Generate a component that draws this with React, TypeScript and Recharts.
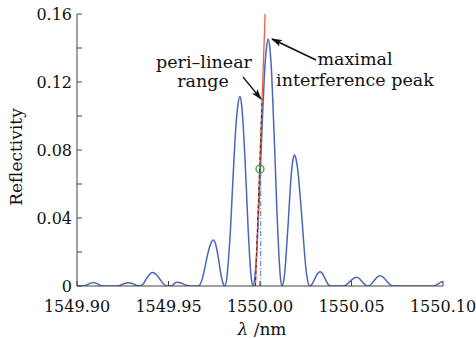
import { LineChart, Line, XAxis, YAxis, ReferenceDot } from "recharts";

// wavelength (nm) and reflectivity, lobe by lobe
const WAVELENGTH = [
  // far left side lobes
  1549.9, 1549.9034, 1549.9048, 1549.9061, 1549.9075, 1549.9089, 1549.9103, 1549.9116, 1549.913, 1549.9144,
  1549.9217, 1549.9233, 1549.9249, 1549.9264, 1549.928, 1549.9296, 1549.9312, 1549.9328, 1549.9344,
  1549.9361, 1549.9378, 1549.9396, 1549.9413, 1549.9433, 1549.9453, 1549.9473, 1549.9493,
  1549.9512, 1549.952, 1549.9529, 1549.9537, 1549.9545, 1549.9564, 1549.9583, 1549.9602, 1549.9621,
  // 0.027 lobe
  1549.9663, 1549.9673, 1549.9684, 1549.9694, 1549.9704, 1549.9714, 1549.9725, 1549.9735, 1549.9745,
  1549.9753, 1549.9761, 1549.9769, 1549.9777, 1549.9784, 1549.9792, 1549.98,
  // 0.111 lobe
  1549.9808, 1549.9818, 1549.9828, 1549.9839, 1549.9849, 1549.9859, 1549.9869, 1549.988, 1549.989,
  1549.9899, 1549.9908, 1549.9917, 1549.9926, 1549.9935, 1549.9944, 1549.9953,
  // main peak
  1549.9962, 1549.9972, 1549.9983, 1549.9993, 1550.0004, 1550.0014, 1550.0024, 1550.0035, 1550.0045,
  1550.0054, 1550.0064, 1550.0073, 1550.0083, 1550.0092, 1550.0102, 1550.0111,
  // 0.077 lobe
  1550.0121, 1550.0129, 1550.0138, 1550.0146, 1550.0155, 1550.0163, 1550.0171, 1550.018, 1550.0188,
  1550.0198, 1550.0209, 1550.0219, 1550.023, 1550.024, 1550.025, 1550.0261,
  // right side lobes
  1550.0271, 1550.0285, 1550.0299, 1550.0314, 1550.0328, 1550.0342, 1550.0356, 1550.0371, 1550.0385,
  1550.0455, 1550.0473, 1550.0491, 1550.051, 1550.0528, 1550.0543, 1550.0558, 1550.0574, 1550.0589,
  1550.0606, 1550.0623, 1550.0639, 1550.0656, 1550.0674, 1550.0692, 1550.071, 1550.0728,
  1550.0947, 1550.096, 1550.0973, 1550.0987, 1550.1,
];

const REFLECTIVITY = [
  0, 0, 0.0003, 0.001, 0.0017, 0.002, 0.0017, 0.001, 0.0003, 0,
  0, 0.0003, 0.001, 0.0016, 0.0019, 0.0016, 0.001, 0.0003, 0,
  0.0012, 0.004, 0.0068, 0.008, 0.0068, 0.004, 0.0012, 0,
  0, 0.0003, 0.0011, 0.0019, 0.0022, 0.0019, 0.0011, 0.0003, 0,
  0, 0.001, 0.0039, 0.0083, 0.0135, 0.0186, 0.0231, 0.026, 0.027,
  0.026, 0.0231, 0.0186, 0.0135, 0.0083, 0.0039, 0.001,
  0, 0.004, 0.016, 0.034, 0.056, 0.077, 0.095, 0.107, 0.1114,
  0.107, 0.095, 0.077, 0.056, 0.034, 0.016, 0.004,
  0, 0.0055, 0.0212, 0.0449, 0.0727, 0.1004, 0.1241, 0.1398, 0.1453,
  0.1398, 0.1241, 0.1004, 0.0727, 0.0449, 0.0212, 0.0055,
  0, 0.0029, 0.0112, 0.0238, 0.0385, 0.0532, 0.0658, 0.0741, 0.077,
  0.0741, 0.0658, 0.0532, 0.0385, 0.0238, 0.0112, 0.0029,
  0, 0.0012, 0.0042, 0.0072, 0.0084, 0.0072, 0.0042, 0.0012, 0,
  0, 0.0008, 0.0026, 0.0044, 0.0052, 0.0044, 0.0026, 0.0008, 0,
  0.0009, 0.003, 0.0051, 0.006, 0.0051, 0.003, 0.0009, 0,
  0, 0.0004, 0.0012, 0.0021, 0.0025,
];

// tangent line through the half-maximum point and its helpers
const TANGENT_X = [1549.9975, 1550.0028];
const TANGENT_Y = [0, 0.16];
const LINEAR_X = [1549.9975, 1550.00114];
const LINEAR_Y = [0, 0.11];
const MARK_X = [1550.0004, 1550.0004];
const MARK_Y = [0, 0.066];
const HALF_POINT = { x: 1550.0, y: 0.0688 };

const X_TICKS = [1549.9, 1549.95, 1550.0, 1550.05, 1550.1];
const Y_TICKS = [0, 0.02, 0.04, 0.06, 0.08, 0.1, 0.12, 0.14, 0.16];

const toPoints = (xs: number[], ys: number[]) => xs.map((x, i) => ({ x, y: ys[i] }));

const spectrum = toPoints(WAVELENGTH, REFLECTIVITY);
const tangent = toPoints(TANGENT_X, TANGENT_Y);
const linear = toPoints(LINEAR_X, LINEAR_Y);
const mark = toPoints(MARK_X, MARK_Y);

const AXIS = "#444";
const FONT = "'DejaVu Serif', 'Liberation Serif', serif";

const yLabel = (v: number) => {
  const k = Math.round(v * 100);
  if (k === 0) return "0";
  return k % 4 === 0 ? v.toFixed(2) : "";
};

export default function App() {
  return (
    <div style={{ position: "absolute", left: 0, top: 0, width: 476, height: 338, background: "#fff", fontFamily: FONT }}>
      <LineChart width={476} height={338} margin={{ top: 14, right: 33, bottom: 0, left: 0 }}>
        <XAxis
          dataKey="x"
          type="number"
          domain={[1549.9, 1550.1]}
          allowDataOverflow
          ticks={X_TICKS}
          interval={0}
          tickFormatter={(v: number) => v.toFixed(2)}
          height={52}
          tickSize={-5}
          tickMargin={20}
          axisLine={{ stroke: AXIS }}
          tickLine={{ stroke: AXIS }}
          tick={{ fontSize: 16, fill: "#111", fontFamily: FONT }}
        />
        <XAxis
          xAxisId="top"
          orientation="top"
          dataKey="x"
          type="number"
          domain={[1549.9, 1550.1]}
          allowDataOverflow
          ticks={X_TICKS}
          interval={0}
          height={0}
          tickSize={-5}
          tick={false}
          axisLine={{ stroke: AXIS }}
          tickLine={{ stroke: AXIS }}
        />
        <YAxis
          type="number"
          domain={[0, 0.16]}
          allowDataOverflow
          ticks={Y_TICKS}
          interval={0}
          tickFormatter={yLabel}
          width={77}
          tickSize={-5}
          tickMargin={10}
          axisLine={{ stroke: AXIS }}
          tickLine={{ stroke: AXIS }}
          tick={{ fontSize: 16, fill: "#111", fontFamily: FONT }}
        />
        <YAxis
          yAxisId="right"
          orientation="right"
          type="number"
          domain={[0, 0.16]}
          allowDataOverflow
          ticks={Y_TICKS}
          interval={0}
          width={0}
          tickSize={-5}
          tick={false}
          axisLine={{ stroke: AXIS }}
          tickLine={{ stroke: AXIS }}
        />
        <Line
          data={spectrum}
          dataKey="y"
          type="monotone"
          stroke="#4a66b8"
          strokeWidth={1.5}
          dot={false}
          isAnimationActive={false}
        />
        <Line
          data={mark}
          dataKey="y"
          type="linear"
          stroke="#5a72c0"
          strokeWidth={1}
          strokeDasharray="5 2 1 2"
          dot={false}
          isAnimationActive={false}
        />
        <Line
          data={tangent}
          dataKey="y"
          type="linear"
          stroke="#f2603f"
          strokeWidth={1.3}
          dot={false}
          isAnimationActive={false}
        />
        <Line
          data={linear}
          dataKey="y"
          type="linear"
          stroke="#333"
          strokeWidth={1}
          strokeDasharray="3 3"
          dot={false}
          isAnimationActive={false}
        />
        <ReferenceDot
          x={HALF_POINT.x}
          y={HALF_POINT.y}
          r={4}
          fill="none"
          stroke="#3d9a3d"
          strokeWidth={1.3}
        />
      </LineChart>

      {/* annotations */}
      <svg
        width={476}
        height={338}
        style={{ position: "absolute", left: 0, top: 0, pointerEvents: "none", fontFamily: FONT }}
        fill="#111"
      >
        <defs>
          <marker id="head" markerWidth={11} markerHeight={7} refX={10} refY={3.5} orient="auto" markerUnits="userSpaceOnUse">
            <path d="M0,0 L11,3.5 L0,7 L2.5,3.5 z" fill="#111" />
          </marker>
        </defs>
        <text x={204} y={68} fontSize={17.5} textAnchor="middle">peri–linear</text>
        <text x={203} y={87} fontSize={17.5} textAnchor="middle">range</text>
        <text x={355} y={65} fontSize={17.5} textAnchor="middle">maximal</text>
        <text x={355} y={86} fontSize={17.5} textAnchor="middle">interference peak</text>
        <line x1={316} y1={60} x2={272} y2={39} stroke="#111" strokeWidth={1.6} markerEnd="url(#head)" />
        <line x1={243} y1={77} x2={261} y2={99} stroke="#111" strokeWidth={1.2} markerEnd="url(#head)" />
        <text x={22} y={157} fontSize={17} textAnchor="middle" transform="rotate(-90 22 157)">Reflectivity</text>
        <text x={262} y={335} fontSize={17} textAnchor="middle">
          <tspan fontStyle="italic">λ</tspan> /nm
        </text>
      </svg>
    </div>
  );
}
